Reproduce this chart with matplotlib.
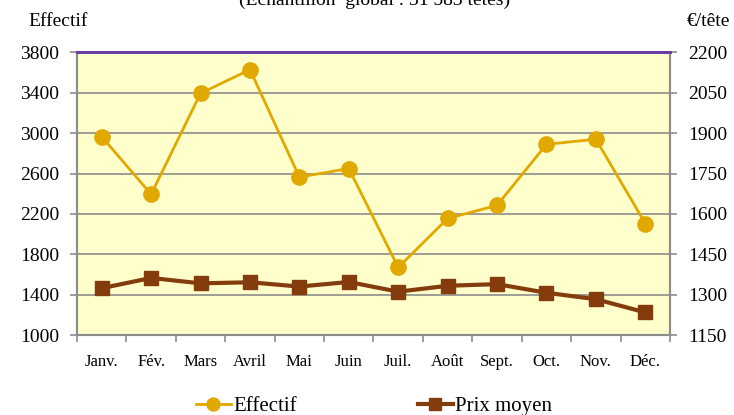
import matplotlib.pyplot as plt
import numpy as np

# Data
mois = ['Janv.', 'Fév.', 'Mars', 'Avril', 'Mai', 'Juin', 'Juil.', 'Août', 'Sept.', 'Oct.', 'Nov.', 'Déc.']
effectif = [2965, 2395, 3395, 3630, 2565, 2650, 1670, 2155, 2285, 2890, 2940, 2105]
prix_moyen = [1324, 1362, 1342, 1346, 1330, 1347, 1311, 1333, 1339, 1307, 1283, 1234]

left_ticks = [1000, 1400, 1800, 2200, 2600, 3000, 3400, 3800]
right_ticks = [1150, 1300, 1450, 1600, 1750, 1900, 2050, 2200]

plt.rcParams['font.family'] = ['Liberation Serif', 'DejaVu Serif']

fig = plt.figure(figsize=(7.34, 4.15), dpi=100)
ax = fig.add_axes([77 / 734, 1 - 335 / 415, (670 - 77) / 734, (335 - 52.5) / 415])
ax.set_facecolor('#FFFFCC')

x = np.arange(len(mois))

# -------------------------------------------------------------------------------------------------- #

ax.plot(x, effectif, color='#E1A800', lw=2, marker='o', ms=11, zorder=3, label='Effectif')
ax.set_ylim(1000, 3800)
ax.set_yticks(left_ticks)
ax.set_xlim(-0.5, 11.5)
ax.grid(axis='y', color='#8C8C8C', lw=1.2)
ax.set_axisbelow(True)

ax2 = ax.twinx()
ax2.plot(x, prix_moyen, color='#843C0C', lw=3, marker='s', ms=10, zorder=3, label='Prix moyen')
ax2.set_ylim(1150, 2200)
ax2.set_yticks(right_ticks)

# x ticks between categories, labels centred
ax.set_xticks(np.arange(-0.5, 12, 1))
ax.set_xticklabels([])
ax.set_xticks(x, minor=True)
ax.set_xticklabels(mois, minor=True, fontsize=12)
ax.tick_params(axis='x', which='minor', length=0, pad=14)
ax.tick_params(axis='x', which='major', length=5, color='#8C8C8C', width=1.2)
ax.tick_params(axis='y', length=5, color='#8C8C8C', width=1.2, labelsize=14, pad=8)
ax2.tick_params(axis='y', length=5, color='#8C8C8C', width=1.2, labelsize=14, pad=8)

for a in (ax, ax2):
    for s in ('left', 'right', 'bottom'):
        a.spines[s].set_color('#8C8C8C')
        a.spines[s].set_linewidth(1.5)
    a.spines['top'].set_color('#6A3BA0')
    a.spines['top'].set_linewidth(2)

# Axis titles and cut-off subtitle
fig.text(28 / 734, 1 - 21 / 415, 'Effectif', fontsize=14, va='center', ha='left')
fig.text(730 / 734, 1 - 21 / 415, '€/tête', fontsize=14, va='center', ha='right')
fig.text(375 / 734, 1 - 5 / 415, '(Echantillon  global : 31 583 têtes)', fontsize=14,
         va='baseline', ha='center')

# Legend at the bottom
h1, l1 = ax.get_legend_handles_labels()
h2, l2 = ax2.get_legend_handles_labels()
fig.legend(h1 + h2, l1 + l2, loc='center', bbox_to_anchor=(374 / 734, 1 - 406 / 415),
           ncol=2, frameon=False, fontsize=15, handlelength=1.7, columnspacing=5.8,
           handletextpad=0.1, markerscale=0.85)

fig.savefig('out.png', dpi=100)
